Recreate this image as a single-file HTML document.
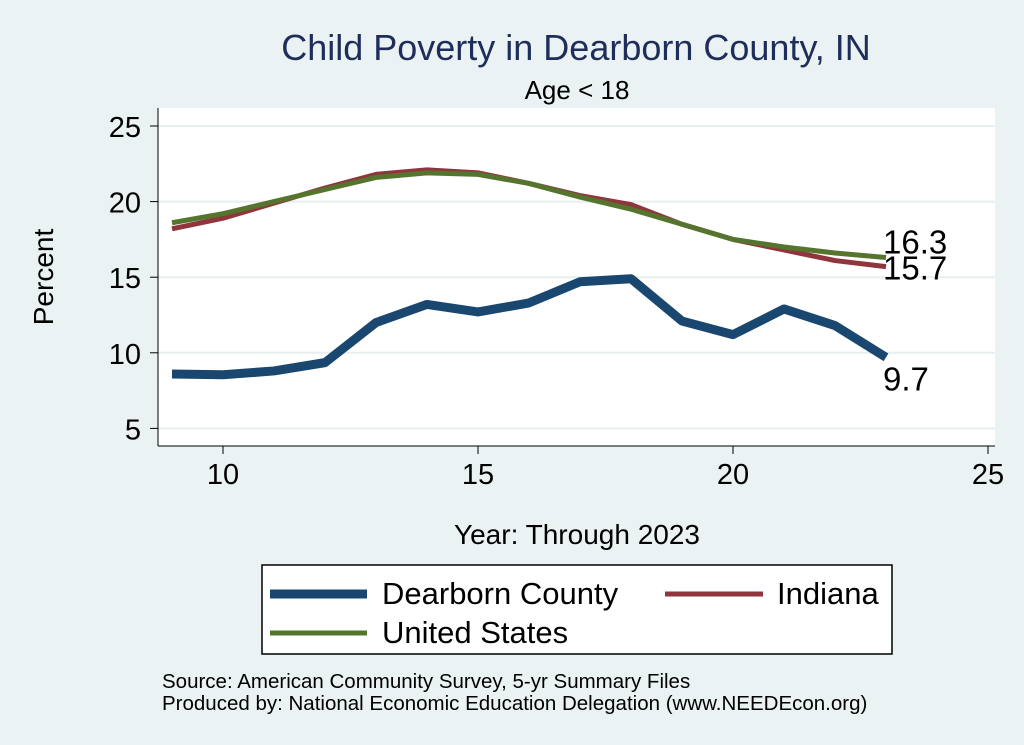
<!DOCTYPE html>
<html><head><meta charset="utf-8"><style>
body{margin:0;background:#eaf2f3;}
svg{display:block;font-family:"Liberation Sans",Arial,sans-serif;}
</style></head><body>
<svg id="chart" width="1024" height="745" viewBox="0 0 1024 745">
<rect x="0" y="0" width="1024" height="745" fill="#eaf2f3"/>
<rect x="158" y="108" width="837" height="338" fill="#ffffff"/>
<text x="576" y="60" font-size="36" fill="#1e2d5a" text-anchor="middle">Child Poverty in Dearborn County, IN</text>
<text x="577" y="99" font-size="26" fill="#000" text-anchor="middle">Age &lt; 18</text>
<g id="grid"></g><g id="axes"></g><g id="series"></g>
<text x="53" y="277" font-size="28" text-anchor="middle" transform="rotate(-90 53 277)">Percent</text>
<text x="577" y="544" font-size="28" text-anchor="middle">Year: Through 2023</text>
<g>
<rect x="262" y="565" width="630" height="89" fill="#fff" stroke="#000" stroke-width="1.5"/>
<g><line x1="270" y1="594" x2="367" y2="594" stroke="#1a476f" stroke-width="9"/><text x="382" y="604" font-size="31">Dearborn County</text></g>
<g><line x1="665" y1="594" x2="763" y2="594" stroke="#90353b" stroke-width="5"/><text x="777" y="604" font-size="31">Indiana</text></g>
<g><line x1="270" y1="633" x2="367" y2="633" stroke="#55752f" stroke-width="5"/><text x="382" y="643" font-size="31">United States</text></g>
</g>
<text x="162" y="688" font-size="20.5">Source: American Community Survey, 5-yr Summary Files</text>
<text x="162" y="710" font-size="20.5">Produced by: National Economic Education Delegation (www.NEEDEcon.org)</text>
</svg>
<script>
const years=[9,10,11,12,13,14,15,16,17,18,19,20,21,22,23];
const dearborn=[8.6,8.55,8.8,9.35,12.0,13.2,12.7,13.3,14.7,14.9,12.1,11.2,12.9,11.8,9.7];
const indiana=[18.2,18.9,19.9,20.9,21.8,22.1,21.9,21.2,20.4,19.8,18.5,17.5,16.8,16.1,15.7];
const usa=[18.6,19.2,20.0,20.8,21.6,21.9,21.8,21.2,20.3,19.5,18.5,17.5,17.0,16.6,16.3];
const yTicks=[5,10,15,20,25];
const xTicks=[10,15,20,25];
const NS="http://www.w3.org/2000/svg";
const xs=v=>223+(v-10)*51;
const ys=v=>126+(25-v)*15.12;
function mk(tag,attrs,parent){const e=document.createElementNS(NS,tag);for(const k in attrs)e.setAttribute(k,attrs[k]);parent.appendChild(e);return e;}
const grid=document.getElementById('grid'),axes=document.getElementById('axes'),ser=document.getElementById('series');
mk('line',{x1:158,y1:108,x2:158,y2:446,stroke:'#000','stroke-width':1},axes);
mk('line',{x1:158,y1:446,x2:995,y2:446,stroke:'#000','stroke-width':1},axes);
yTicks.forEach(t=>{
 const g=mk('line',{x1:158,x2:995,y1:ys(t),y2:ys(t),stroke:'#e8eeee','stroke-width':2},grid);
 
 
 mk('line',{x1:150,x2:158,y1:ys(t),y2:ys(t),stroke:'#000'},axes);
 const tx=mk('text',{x:141,y:ys(t)+11,'font-size':29,'text-anchor':'end'},axes);tx.textContent=t;
 
 
});
xTicks.forEach(t=>{
 mk('line',{x1:xs(t),x2:xs(t),y1:446,y2:454,stroke:'#000'},axes);
 const tx=mk('text',{x:xs(t),y:484,'font-size':29,'text-anchor':'middle'},axes);tx.textContent=t;
 
 
});
function line(vals,color,w,name){
 const p=mk('polyline',{points:vals.map((v,i)=>xs(years[i])+','+ys(v)).join(' '),fill:'none',stroke:color,'stroke-width':w,'stroke-linejoin':'round'},ser);
 
 
}
line(indiana,'#90353b',5,'indiana-line');
line(usa,'#55752f',5,'united-states-line');
line(dearborn,'#1a476f',9,'dearborn-line');
function lab(vals,dy,name){
 const n=vals.length-1;
 const t=mk('text',{x:xs(years[n])-3,y:ys(vals[n])+dy,'font-size':33},ser);t.textContent=vals[n].toFixed(1);
 
 
}
lab(usa,-4,'united-states-end-label');
lab(indiana,13,'indiana-end-label');
lab(dearborn,33,'dearborn-end-label');
</script>
</body></html>
